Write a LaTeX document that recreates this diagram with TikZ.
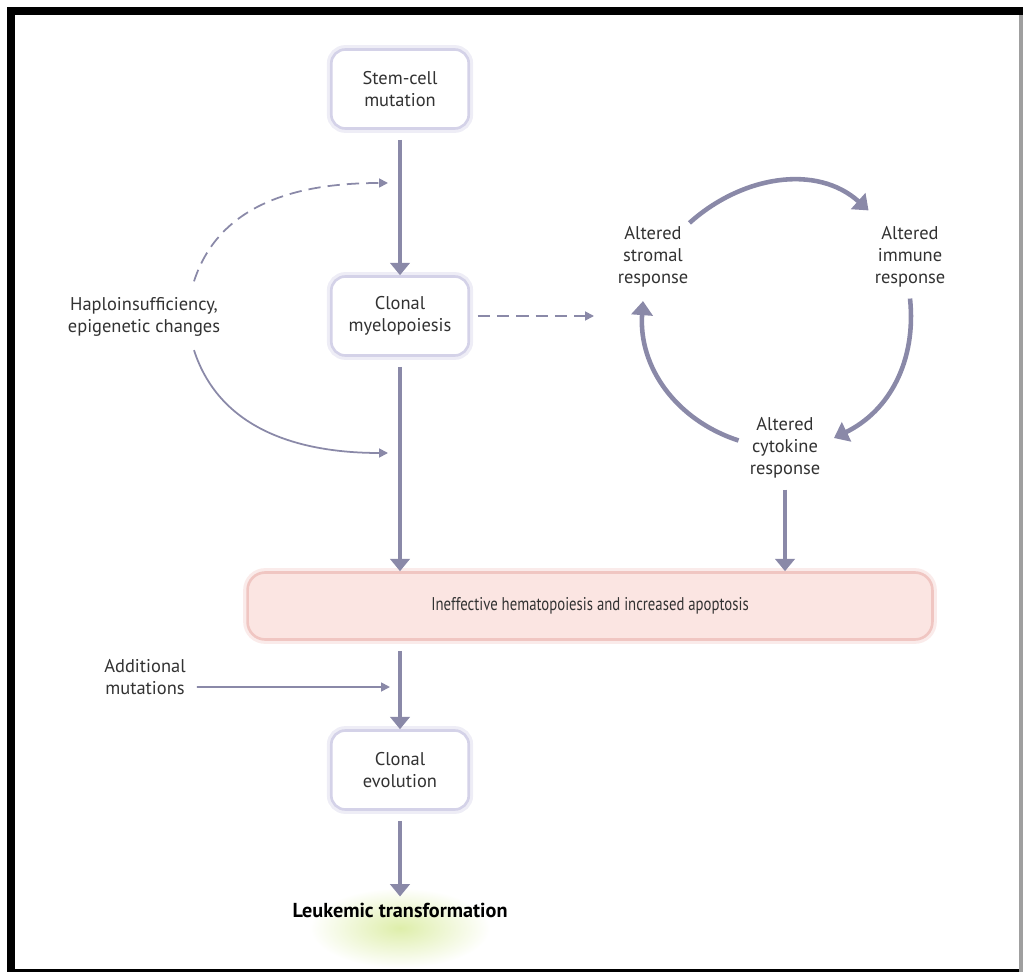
\documentclass[tikz,border=0pt]{standalone}
\usepackage{fontspec}
\setmainfont{PT Sans}
\newfontfamily\narrowsans[FakeStretch=0.8]{PT Sans}
\usetikzlibrary{arrows.meta,calc}
\definecolor{arrowc}{RGB}{138,137,168}
\definecolor{boxline}{RGB}{212,210,232}
\definecolor{pinkfill}{RGB}{251,229,226}
\definecolor{pinkline}{RGB}{240,198,194}
\definecolor{txt}{RGB}{50,50,50}
\definecolor{glow}{RGB}{222,238,170}

\begin{document}
\begin{tikzpicture}[x=0.02cm,y=0.02cm,
  font=\fontsize{10.5}{12.5}\selectfont, text=txt,
  stage/.style={draw=boxline,line width=1.5pt,fill=white,rounded corners=8pt,
    minimum width=2.75cm,minimum height=1.58cm,align=center,
    preaction={draw=boxline,line width=5pt,opacity=.4}},
  pinkbox/.style={draw=pinkline,line width=1.5pt,fill=pinkfill,rounded corners=10pt,
    minimum width=13.7cm,minimum height=1.34cm,
    preaction={draw=pinkline,line width=5pt,opacity=.35}},
  lbl/.style={align=center},
  flow/.style={draw=arrowc,line width=2.3pt,-{Triangle[width=11pt,length=7pt]}},
  side/.style={draw=arrowc,line width=1pt,-{Triangle[width=5pt,length=5pt]}},
  cyc/.style={draw=arrowc,line width=2.6pt,-{Triangle[width=12pt,length=8pt]}}]
  \useasboundingbox (0,0) rectangle (1023,-972);
  % glow under the last step
  \shade[inner color=glow,outer color=white] (400,-928) ellipse [x radius=90,y radius=40];
  % frame
  \fill[black] (7,-7) rectangle (1023,-15);
  \fill[black] (7,-7) rectangle (15,-972);
  \fill[black] (7,-969) rectangle (1019,-972);
  \fill[gray!75] (1019,-15) rectangle (1023,-972);

  \node[stage] (stem) at (400,-89) {Stem-cell\\mutation};
  \node[stage] (clonal) at (400,-316) {Clonal\\myelopoiesis};
  \node[pinkbox] (ineff) at (590,-606) {\narrowsans Ineffective hematopoiesis and increased apoptosis};
  \node[stage] (evol) at (400,-770) {Clonal\\evolution};
  \node[font=\fontsize{11.5}{13}\selectfont\bfseries,text=black] (leuk) at (400,-910) {Leukemic transformation};

  \node[lbl] (haplo) at (144,-317) {Haploinsufficiency,\\epigenetic changes};
  \node[lbl] (addmut) at (145,-677) {Additional\\mutations};
  \node[lbl] (stromal) at (653,-257) {Altered\\stromal\\response};
  \node[lbl] (immune) at (910,-257) {Altered\\immune\\response};
  \node[lbl] (cyto) at (785,-448) {Altered\\cytokine\\response};

  \coordinate (m1) at (388,-183);
  \coordinate (m2) at (388,-453);
  \coordinate (m3) at (390,-687);
  \coordinate (m4) at (594,-316);

  % main line
  \draw[flow,shorten <=0.2cm] (stem) -- (clonal);
  \draw[flow,shorten <=0.2cm] (clonal.south) -- (clonal.south |- ineff.north);
  \draw[flow,shorten <=0.2cm] (clonal.south |- ineff.south) -- (evol.north);
  \draw[flow,shorten <=0.2cm] (evol) -- (leuk);
  \draw[flow,shorten <=0.1cm] (cyto.south) -- (cyto.south |- ineff.north);

  % side influences
  \draw[side,dashed,dash pattern=on 7pt off 4pt] ([xshift=1.0cm,yshift=0.2cm]haplo.north) to[out=72,in=180] (m1);
  \draw[side] ([xshift=1.0cm,yshift=-0.15cm]haplo.south) to[out=-72,in=180] (m2);
  \draw[side] ([xshift=0.1cm,yshift=-0.2cm]addmut.east) -- (m3);
  \draw[side,dashed,dash pattern=on 7pt off 4pt,shorten <=0.15cm] (clonal.east) -- (m4);

  % cycle
  \draw[cyc] ([xshift=-0.1cm,yshift=-0.05cm]stromal.north east) to[out=42,in=138] ([yshift=0.2cm]immune.north west);
  \draw[cyc] ([yshift=-0.1cm]immune.south) to[out=-84,in=26] ([xshift=0.15cm,yshift=0.2cm]cyto.east);
  \draw[cyc] ([xshift=-0.1cm,yshift=0.15cm]cyto.west) to[out=162,in=-94] ([xshift=-0.2cm,yshift=-0.15cm]stromal.south);
\end{tikzpicture}
\end{document}
